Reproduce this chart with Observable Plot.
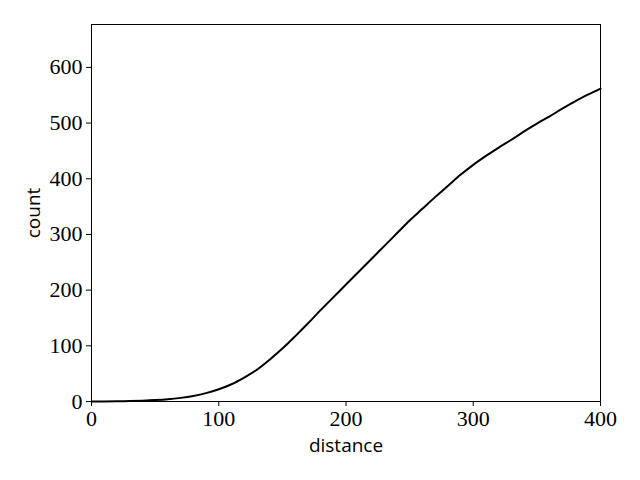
<!DOCTYPE html>
<html>
<head>
<meta charset="utf-8">
<script src="https://cdn.jsdelivr.net/npm/d3@7"></script>
<script src="https://cdn.jsdelivr.net/npm/@observablehq/plot@0.6"></script>
<style>
  html, body { margin: 0; padding: 0; background: white; }
</style>
</head>
<body>
<div id="chart"></div>
<script>
const distance = [0, 10, 20, 30, 40, 50, 60, 70, 80, 90, 100, 110, 120, 130, 140, 150, 160, 170, 180, 190, 200, 210, 220, 230, 240, 250, 260, 270, 280, 290, 300, 310, 320, 330, 340, 350, 360, 370, 380, 390, 400];
const count = [0, 0.1, 0.3, 0.8, 1.5, 2.5, 4, 6.5, 10, 15, 22, 31, 43, 57, 75, 95, 117, 140, 164, 187, 210, 233, 256, 279, 302, 325, 346, 367, 387, 407, 425, 441, 456, 470, 485, 499, 512, 526, 539, 551, 562];
const xTicks = [0, 100, 200, 300, 400];
const yTicks = [0, 100, 200, 300, 400, 500, 600];
const xLabel = "distance";
const yLabel = "count";

const data = distance.map((d, i) => ({distance: d, count: count[i]}));

const chart = Plot.plot({
  width: 640,
  height: 480,
  marginLeft: 91,
  marginRight: 40,
  marginTop: 24,
  marginBottom: 79,
  x: {domain: [0, 400]},
  y: {domain: [0, 677]},
  style: {fontFamily: "Liberation Serif", fontSize: "22px", color: "black", background: "white"},
  marks: [
    Plot.frame({stroke: "black", strokeWidth: 1}),
    Plot.axisX({ticks: xTicks, tickSize: 5, tickPadding: 4, fontSize: 22, label: null, tickFormat: d => String(d)}),
    Plot.axisY({ticks: yTicks, tickSize: 5, tickPadding: 4, fontSize: 22, label: null, tickFormat: d => String(d)}),
    Plot.line(data, {x: "distance", y: "count", stroke: "black", strokeWidth: 2, curve: "catmull-rom"}),
    Plot.text([xLabel], {text: d => d, frameAnchor: "bottom", lineAnchor: "middle", textAnchor: "middle", dy: 44, fontFamily: "Open Sans", fontSize: 19}),
    Plot.text([yLabel], {text: d => d, frameAnchor: "left", lineAnchor: "middle", textAnchor: "middle", dx: -58, rotate: -90, fontFamily: "Open Sans", fontSize: 19})
  ]
});
document.getElementById("chart").appendChild(chart);
</script>
</body>
</html>
